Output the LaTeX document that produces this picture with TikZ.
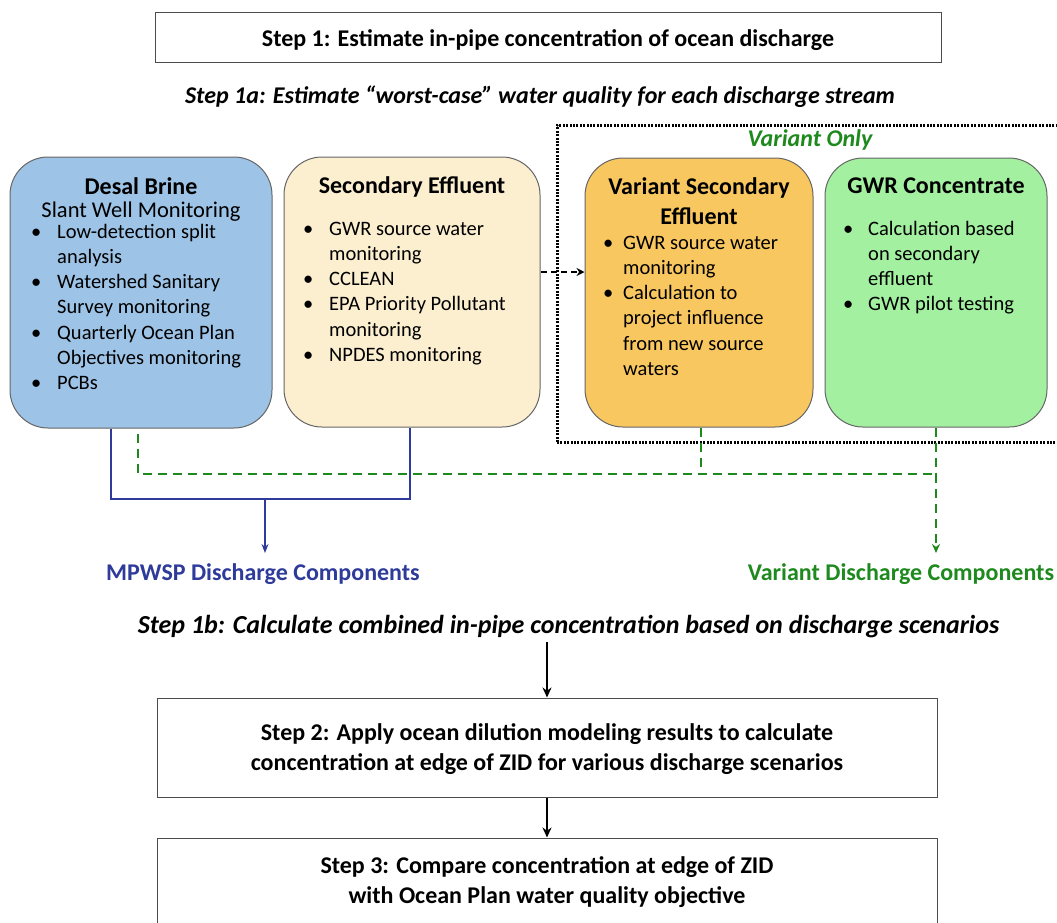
\documentclass[tikz,border=0pt]{standalone}
\usepackage{fontspec}
\setmainfont{Carlito}
\usetikzlibrary{arrows.meta,calc}
\definecolor{bluef}{HTML}{9DC3E6}
\definecolor{creamf}{HTML}{FCEFD0}
\definecolor{orangef}{HTML}{F9C75F}
\definecolor{greenf}{HTML}{A2F0A0}
\definecolor{navyl}{HTML}{2E3B9A}
\definecolor{greenl}{HTML}{1E8A1E}
\newcommand\fsz{\fontsize{20.5pt}{25.3pt}\selectfont}
\newcommand\fszb{\fontsize{24pt}{29.3pt}\selectfont}
\newcommand\fszs{\fontsize{22.5pt}{27pt}\selectfont}
\newcommand\fszc{\fontsize{26pt}{31pt}\selectfont}
\newcommand\itm[2]{\makebox[#1][l]{\textbullet}#2}
\newcommand\cnt[2]{\hspace*{#1}#2}
\tikzset{
  rbox/.style={draw=black!60, line width=1pt, rounded corners=38pt, inner sep=0pt},
  sbox/.style={draw=black!70, line width=1pt, inner sep=0pt},
  ttl/.style={font=\fszb\bfseries, anchor=base, inner sep=0pt},
  sub/.style={font=\fszs, anchor=base, inner sep=0pt},
  lst/.style={font=\fsz, align=left, anchor=base west, inner sep=0pt},
  stepttl/.style={font=\fszb\bfseries, anchor=base, inner sep=0pt, align=center},
  stepit/.style={font=\fszb\bfseries\itshape, anchor=base, inner sep=0pt},
  arr/.style={line width=1.6pt, -{Stealth[length=10pt,width=9pt]}},
  bline/.style={draw=navyl, line width=1.6pt},
  gdash/.style={draw=greenl, line width=2pt, dash pattern=on 9pt off 6pt},
  dotbox/.style={draw=black, line width=3pt, dash pattern=on 2pt off 1.4pt, inner sep=0pt}
}
\begin{document}
\begin{tikzpicture}[x=1pt,y=-1pt]
\useasboundingbox (0,0) rectangle (1057,922);
\fill[white] (0,0) rectangle (1057,922);

% Step 1
\node[sbox, minimum width=786, minimum height=50] (step1) at (548,37) {};
\node[stepttl] (step1t) at (548,46) {Step 1: Estimate in-pipe concentration of ocean discharge};
\node[stepit] (step1a) at (540,103) {Step 1a: Estimate \textquotedblleft worst-case\textquotedblright{} water quality for each discharge stream};

% Variant only frame
\node[dotbox, minimum width=505, minimum height=317] (varbox) at (809.5,283.5) {};
\node[font=\fszb\bfseries\itshape, text=greenl, anchor=base, inner sep=0pt] (varonly) at (810,146) {Variant Only};

% boxes
\node[rbox, fill=bluef, minimum width=262, minimum height=271] (desal) at (141,292.5) {};
\node[rbox, fill=creamf, minimum width=256, minimum height=270] (sec) at (412,292) {};
\node[rbox, fill=orangef, minimum width=228, minimum height=269] (vsec) at (699,292.5) {};
\node[rbox, fill=greenf, minimum width=222, minimum height=269] (gwr) at (936,292.5) {};

% desal text
\node[ttl] (desalt) at (141,194) {Desal Brine};
\node[sub] (desals) at (141,217) {Slant Well Monitoring};
\node[lst] (desall) at (31,389.8) {\itm{26pt}{Low-detection split}\\\cnt{26pt}{analysis}\\\itm{26pt}{Watershed Sanitary}\\\cnt{26pt}{Survey monitoring}\\\itm{26pt}{Quarterly Ocean Plan}\\\cnt{26pt}{Objectives monitoring}\\\itm{26pt}{PCBs}};

% secondary effluent text
\node[ttl] (sect) at (412,193) {Secondary Effluent};
\node[lst] (secl) at (303,361.5) {\itm{26pt}{GWR source water}\\\cnt{26pt}{monitoring}\\\itm{26pt}{CCLEAN}\\\itm{26pt}{EPA Priority Pollutant}\\\cnt{26pt}{monitoring}\\\itm{26pt}{NPDES monitoring}};

% variant secondary text
\node[ttl, align=center] (vsect) at (699,224) {Variant Secondary\\Effluent};
\node[lst] (vsecl) at (603,375.5) {\itm{20pt}{GWR source water}\\\cnt{20pt}{monitoring}\\\itm{20pt}{Calculation to}\\\cnt{20pt}{project influence}\\\cnt{20pt}{from new source}\\\cnt{20pt}{waters}};

% GWR text
\node[ttl] (gwrt) at (936,193) {GWR Concentrate};
\node[lst] (gwrl) at (843,310.9) {\itm{25pt}{Calculation based}\\\cnt{25pt}{on secondary}\\\cnt{25pt}{effluent}\\\itm{25pt}{GWR pilot testing}};

% dashed arrow secondary -> variant secondary
\coordinate (dsa) at (541,272);
\draw[line width=1.6pt, dash pattern=on 6pt off 4pt, -{Stealth[length=8pt,width=8pt]}] (dsa) -- (vsec.west |- dsa);

% discharge component labels
\node[font=\fszb\bfseries, text=navyl, anchor=base, inner sep=0pt] (mpwsp) at (263,580) {MPWSP Discharge Components};
\node[font=\fszb\bfseries, text=greenl, anchor=base, inner sep=0pt] (varcomp) at (901,580) {Variant Discharge Components};

% green dashed connectors
\coordinate (gj) at (936,474);
\draw[gdash] ([xshift=-3pt,yshift=-5pt]desal.south) |- (gj);
\draw[gdash] ([xshift=2pt]vsec.south) -- ([xshift=2pt]vsec.south |- gj);
\draw[gdash] (gwr.south) -- (gj);
\draw[gdash, -{Stealth[length=9pt,width=8pt]}] (gj) -- ([yshift=10pt]gj |- varcomp.north);

% blue connectors
\coordinate (bj) at (265,499);
\draw[bline] ([xshift=-30pt]desal.south) |- ([xshift=-2pt]sec.south |- bj) -- ([xshift=-2pt]sec.south);
\draw[bline, -{Stealth[length=9pt,width=7pt]}] (bj) -- ([yshift=10pt]bj |- mpwsp.north);

% Step 1b
\node[font=\fszc\bfseries\itshape, anchor=base, inner sep=0pt] (step1b) at (568.5,633) {Step 1b: Calculate combined in-pipe concentration based on discharge scenarios};
\coordinate (a1) at (547,642);

% Step 2
\node[sbox, minimum width=780, minimum height=99] (step2) at (547,747.5) {};
\node[stepttl] (step2t) at (547,770) {Step 2: Apply ocean dilution modeling results to calculate\\concentration at edge of ZID for various discharge scenarios};
\draw[arr] (a1) -- (step2.north);

% Step 3
\node[sbox, minimum width=780, minimum height=92] (step3) at (547,884) {};
\node[stepttl] (step3t) at (547,903) {Step 3: Compare concentration at edge of ZID\\with Ocean Plan water quality objective};
\draw[arr] (step2.south) -- (step3.north);
\end{tikzpicture}
\end{document}
